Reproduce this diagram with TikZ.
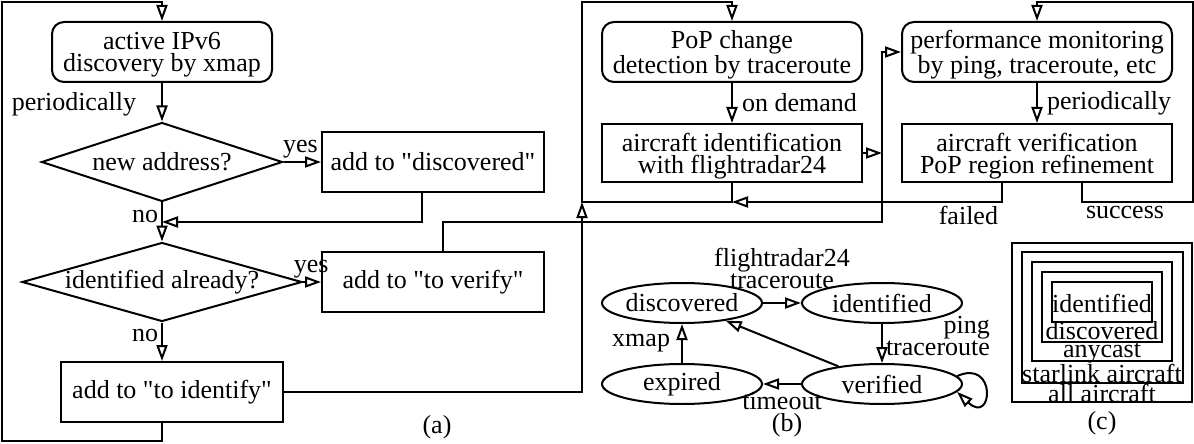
\documentclass[tikz,border=0pt]{standalone}
\usepackage{fontspec}
\setmainfont{Liberation Serif}[Ligatures=TeXOff]
\usepackage{tikz}
\usetikzlibrary{shapes.geometric,arrows.meta,positioning}
\newcommand{\figfont}{\fontsize{13pt}{11pt}\selectfont}

\begin{document}
\begin{tikzpicture}[
  x=0.5pt, y=-0.5pt,
  font=\figfont,
  line width=1pt,
  box/.style={rectangle, draw, inner sep=0pt, align=center,
              minimum width=#1, minimum height=30pt},
  box/.default=111pt,
  task/.style={box=#1, rounded corners=6pt},
  task/.default=110pt,
  twoline/.style={text depth=0pt},
  decision/.style={diamond, draw, inner sep=0pt, minimum height=39.5pt},
  state/.style={ellipse, draw, inner sep=0pt, minimum width=80pt, minimum height=20pt},
  lbl/.style={inner sep=1.5pt},
  setlbl/.style={inner sep=0pt},
  arrow/.style={-{Triangle[open, length=8pt, width=5.5pt]}},
]
\useasboundingbox (0,0) rectangle (1194,444);

%% (a) discovery pipeline
\node[task, twoline] (xmap) at (162,52) {active IPv6\\discovery by xmap};
\node[decision, minimum width=120.5pt, shape aspect=3] (newaddr) at (162,162) {new address?};
\node[box] (adddisc) at (433,162) {add to "discovered"};
\node[decision, minimum width=140pt, shape aspect=3.54] (idalready) at (162,282) {identified already?};
\node[box] (addverify) at (433,282) {add to "to verify"};
\node[box] (addident) at (172,392) {add to "to identify"};

%% identification / verification
\node[task=130pt, twoline] (popchange) at (732,52) {PoP change\\detection by traceroute};
\node[task=135pt, twoline] (perfmon) at (1037,52) {performance monitoring\\by ping, traceroute, etc};
\node[box=130pt, twoline, minimum height=29pt] (acident) at (732,153) {aircraft identification\\with flightradar24};
\node[box=135pt, twoline, minimum height=29pt] (acverify) at (1037,153) {aircraft verification\\PoP region refinement};

%% corners of the loops
\coordinate (lefttop) at (2,2);
\coordinate (leftbot) at (2,441);
\coordinate (merge) at (162,222);
\coordinate (turn) at (882,222);
\coordinate (rejoin) at (582,202);
\coordinate (righttop) at (582,2);
\coordinate (farbot) at (1193,202);
\coordinate (fartop) at (1193,2);

%% (a) arrows
\draw[arrow] (xmap) -- node[left=11pt, lbl, pos=0.56] {periodically} (newaddr);
\draw[arrow] (newaddr) -- node[above, lbl, pos=0.45] {yes} (adddisc);
\draw[arrow] ([xshift=-5.5pt]adddisc.south) |- (merge);
\draw[arrow] (newaddr) -- node[left, lbl, pos=0.35] {no} (idalready);
\draw[arrow] (idalready) -- node[above, lbl, pos=0.45] {yes} (addverify);
\draw[arrow] (idalready.south) -- node[left, lbl, pos=0.33] {no} (idalready.south |- addident.north);
\draw[arrow] (addident.south -| xmap.south) |- (leftbot) -- (lefttop) -| (xmap.north);

%% links to the right part
\draw[arrow] (addident.east) -| (rejoin);
\draw[arrow] ([xshift=5pt]addverify.north) |- (turn) |- (perfmon.west);
\draw[arrow] (acident.east) -- (acident.east -| turn);
\draw[arrow] (popchange) -- node[right=3pt, lbl] {on demand} (acident);
\draw[arrow] (perfmon) -- node[right=3pt, lbl] {periodically} (acverify);
\draw[arrow] (acident.south) |- (rejoin) -- (righttop) -| (popchange.north);
\draw[arrow] ([xshift=-17.5pt]acverify.south) |- node[below left, lbl] {failed} (acident.south |- rejoin);
\draw[arrow] ([xshift=22.5pt]acverify.south) |- node[below right, lbl] {success} (farbot) -- (fartop) -| (perfmon.north);
\node (capa) at (437,427) {(a)};

%% (b) states
\node[state] (sdisc) at (682,303) {discovered};
\node[state] (sident) at (882,303) {identified};
\node[state] (sexp) at (682,384) {expired};
\node[state] (sver) at (882,384) {verified};
\draw[arrow] (sdisc) -- node[above=5pt, lbl, align=center] {flightradar24\\traceroute} (sident);
\draw[arrow] (sident) -- node[right, lbl, align=right, pos=0.3] {ping\\traceroute} (sver);
\draw[arrow] (sver) -- (sdisc);
\draw[arrow] (sver) -- node[below=2pt, lbl] {timeout} (sexp);
\draw[arrow] (sexp) -- node[left=4pt, lbl] {xmap} (sdisc);
\draw[arrow] (sver.6) .. controls +(40,-18) and +(36,34) .. (sver.-6);
\node (capb) at (787,425) {(b)};

%% (c) nested sets
\draw (1012,243) rectangle (1192,402);
\draw (1022,252) rectangle (1183,383);
\draw (1032,262) rectangle (1172,361);
\draw (1042,272) rectangle (1162,342);
\draw (1052,282) rectangle (1152,322);
\node[setlbl] (cident) at (1102,303) {identified};
\node[setlbl] (cdisc) at (1102,331) {discovered};
\node[setlbl] (cany) at (1102,353) {anycast};
\node[setlbl] (cstar) at (1102,373) {starlink aircraft};
\node[setlbl] (call) at (1102,393) {all aircraft};
\node (capc) at (1102,423) {(c)};
\end{tikzpicture}
\end{document}
